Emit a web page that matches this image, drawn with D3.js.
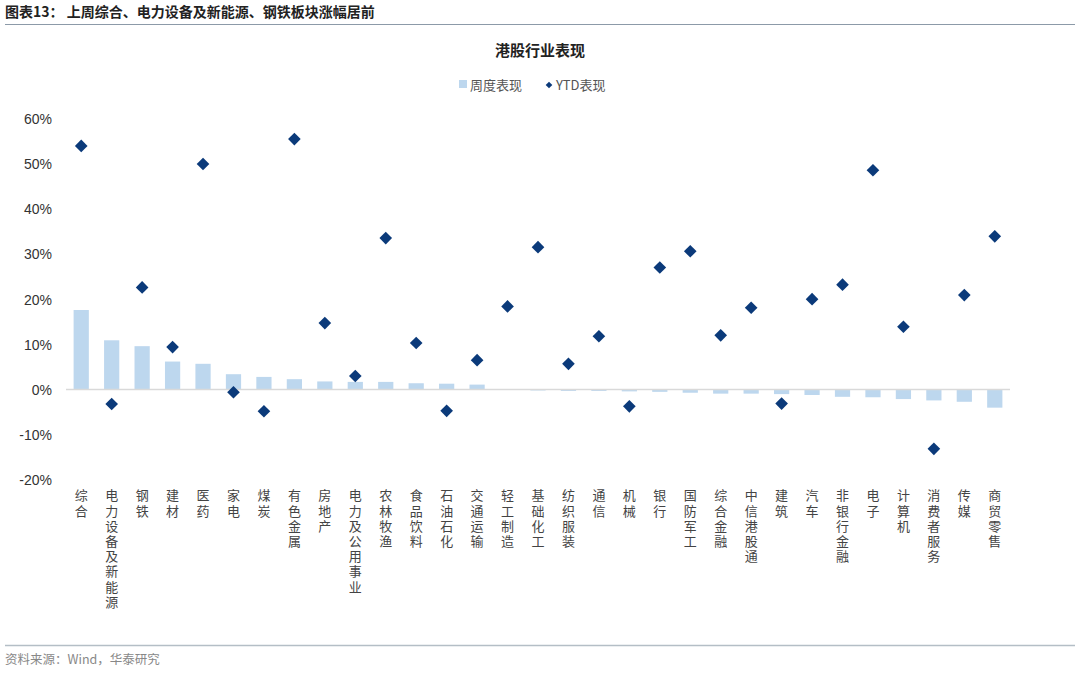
<!DOCTYPE html>
<html><head><meta charset="utf-8">
<script src="https://cdn.jsdelivr.net/npm/d3@7"></script>
<style>
html,body{margin:0;padding:0;background:#fff;}
svg{display:block;}
</style></head>
<body><svg id="c" width="1080" height="683"></svg>
<script>
const categories = ["综合","电力设备及新能源","钢铁","建材","医药","家电","煤炭","有色金属","房地产","电力及公用事业","农林牧渔","食品饮料","石油石化","交通运输","轻工制造","基础化工","纺织服装","通信","机械","银行","国防军工","综合金融","中信港股通","建筑","汽车","非银行金融","电子","计算机","消费者服务","传媒","商贸零售"];
const weekly = [17.6,10.9,9.6,6.2,5.7,3.4,2.8,2.3,1.8,1.7,1.7,1.4,1.3,1.1,0.1,-0.2,-0.3,-0.3,-0.4,-0.5,-0.7,-0.9,-0.9,-1.0,-1.2,-1.6,-1.7,-2.1,-2.4,-2.7,-4.0];
const ytd = [53.9,-3.2,22.6,9.4,49.9,-0.6,-4.8,55.4,14.7,3.0,33.5,10.3,-4.7,6.5,18.4,31.5,5.7,11.8,-3.7,27.0,30.6,12.0,18.1,-3.1,20.0,23.2,48.5,13.9,-13.1,20.9,33.9];
const yTicks = [60,50,40,30,20,10,0,-10,-20];
const titleText = "图表13：  上周综合、电力设备及新能源、钢铁板块涨幅居前";
const chartTitle = "港股行业表现";
const legendLabels = ["周度表现","YTD表现"];
const sourceText = "资料来源：Wind，华泰研究";

const svg = d3.select("#c");
const barColor = "#bdd7ee", dotColor = "#0b3a7a";
const cjk = "'Noto Sans CJK SC', sans-serif";
const latin = "'Liberation Sans', Arial, sans-serif";

// header
svg.append("text").attr("x",5).attr("y",17).attr("font-family",cjk).attr("font-weight","bold")
  .attr("font-size",14).attr("fill","#222").text(titleText);
svg.append("line").attr("x1",5).attr("x2",1075).attr("y1",24.5).attr("y2",24.5).attr("stroke","#8c9aa8").attr("stroke-width",1.2);
svg.append("line").attr("x1",5).attr("x2",1075).attr("y1",645.5).attr("y2",645.5).attr("stroke","#b4bec6").attr("stroke-width",1.5);
svg.append("text").attr("x",5).attr("y",664).attr("font-family",cjk).attr("font-size",12.5)
  .attr("fill","#888").text(sourceText);

// chart title
svg.append("text").attr("x",540).attr("y",56).attr("text-anchor","middle").attr("font-family",cjk)
  .attr("font-weight","bold").attr("font-size",15).attr("fill","#222").text(chartTitle);

// legend
const lg = svg.append("g").attr("font-family",cjk).attr("font-size",13).attr("fill","#555");
lg.append("rect").attr("x",459).attr("y",80).attr("width",8).attr("height",8).attr("fill",barColor);
lg.append("text").attr("x",470).attr("y",89.5).text(legendLabels[0]);
lg.append("path").attr("d",d3.symbol(d3.symbolSquare,22)()).attr("transform","translate(549,85) rotate(45)").attr("fill",dotColor);
lg.append("text").attr("x",556).attr("y",89.5).text(legendLabels[1]);

const x = d3.scaleBand().domain(categories).range([66,1010]).paddingInner(0.5).paddingOuter(0.25);
const y = d3.scaleLinear().domain([-20,60]).range([480,118.3]);

// y axis labels
const ya = svg.append("g").attr("transform","translate(55,0)")
  .call(d3.axisLeft(y).tickValues(yTicks).tickSize(0).tickFormat(d=>d+"%"));
ya.select(".domain").remove();
ya.selectAll("text").attr("font-family",latin).attr("font-size",14).attr("fill","#333").attr("dy","0.35em");

// bars
svg.append("g").selectAll("rect").data(categories).join("rect")
  .attr("x",d=>x(d)).attr("width",x.bandwidth())
  .attr("y",(d,i)=>y(Math.max(0,weekly[i])))
  .attr("height",(d,i)=>Math.abs(y(weekly[i])-y(0)))
  .attr("fill",barColor);

// zero line
svg.append("line").attr("x1",66).attr("x2",1010).attr("y1",y(0)).attr("y2",y(0)).attr("stroke","#d9d9d9").attr("stroke-width",1.5);

// diamonds
const diamond = d3.symbol(d3.symbolSquare,80)();
svg.append("g").selectAll("path").data(categories).join("path")
  .attr("d",diamond)
  .attr("transform",(d,i)=>`translate(${x(d)+x.bandwidth()/2},${y(ytd[i])}) rotate(45)`)
  .attr("fill",dotColor);

// category labels vertical
svg.append("g").selectAll("text").data(categories).join("text")
  .attr("x",d=>x(d)+x.bandwidth()/2).attr("y",489)
  .attr("font-family",cjk).attr("font-size",13).attr("fill","#444")
  .style("writing-mode","vertical-rl").style("text-orientation","upright")
  .attr("letter-spacing",2.2)
  .text(d=>d);
</script></body></html>
